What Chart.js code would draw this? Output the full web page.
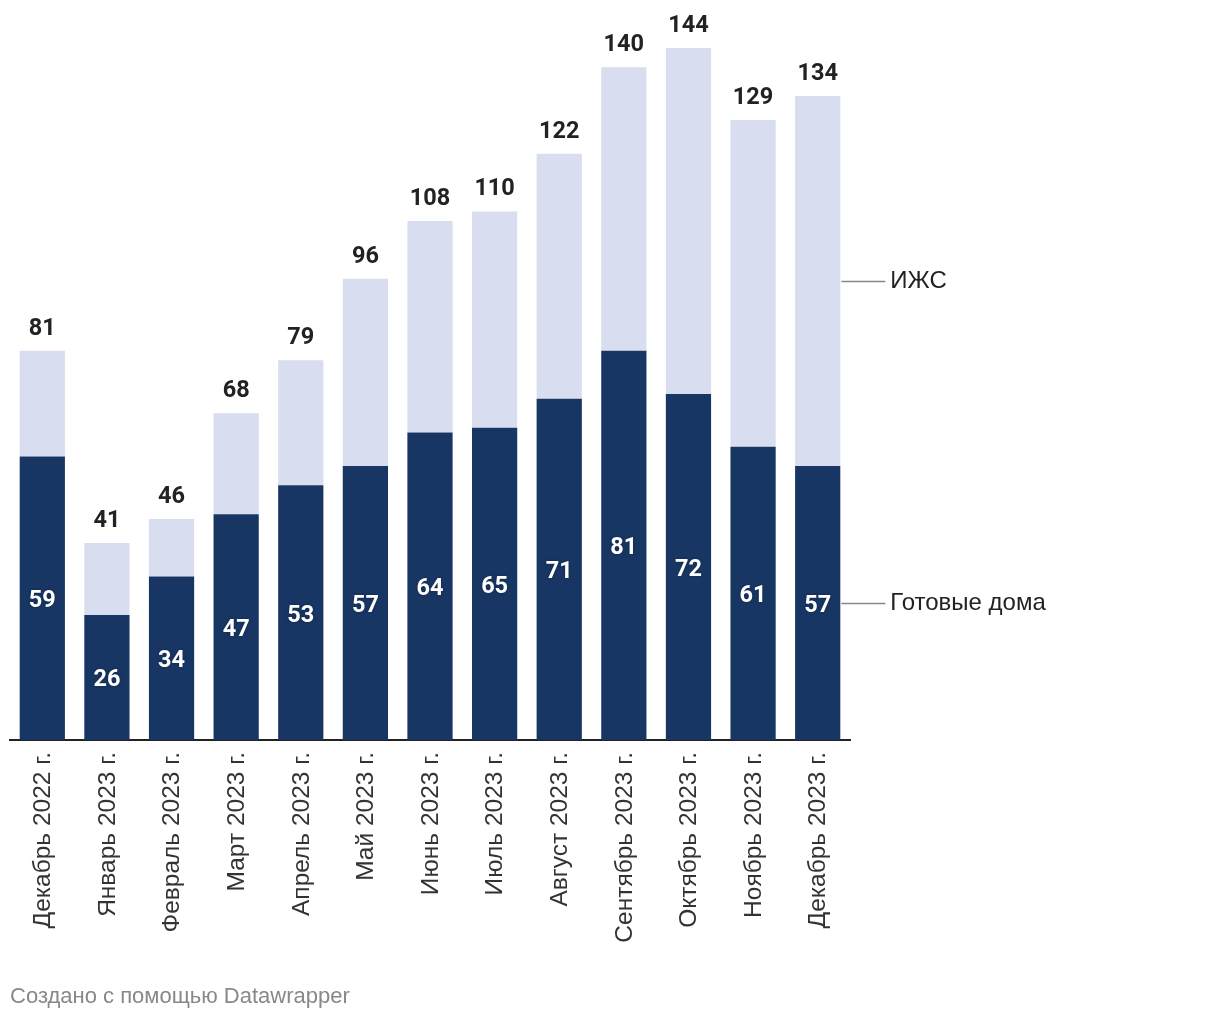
<!DOCTYPE html>
<html><head><meta charset="utf-8">
<script src="https://cdn.jsdelivr.net/npm/chart.js@4/dist/chart.umd.min.js"></script>
<style>html,body{margin:0;padding:0;background:#fff;}#wrap{width:1220px;height:1020px;position:relative;}</style>
</head><body><div id="wrap"><canvas id="c" width="1220" height="1020"></canvas></div>
<script>
const categories = ["Декабрь 2022 г.","Январь 2023 г.","Февраль 2023 г.","Март 2023 г.","Апрель 2023 г.","Май 2023 г.","Июнь 2023 г.","Июль 2023 г.","Август 2023 г.","Сентябрь 2023 г.","Октябрь 2023 г.","Ноябрь 2023 г.","Декабрь 2023 г."];
const ready = [59,26,34,47,53,57,64,65,71,81,72,61,57];
const izhs = [22,15,12,21,26,39,44,45,51,59,72,68,77];
const totals = [81,41,46,68,79,96,108,110,122,140,144,129,134];
const seriesNames = ["Готовые дома","ИЖС"];
const footer = "Создано с помощью Datawrapper";

const FONT = "Roboto, 'Noto Sans', sans-serif";
const SANS = "'Liberation Sans', Arial, sans-serif";
const labelPlugin = {
  id: 'labels',
  afterDatasetsDraw(chart) {
    const ctx = chart.ctx, x = chart.scales.x, y = chart.scales.y;
    const area = chart.chartArea;
    ctx.save();
    categories.forEach((c, i) => {
      const cx = x.getPixelForValue(i);
      ctx.textAlign = 'center'; ctx.textBaseline = 'middle';
      ctx.font = "bold 23.5px " + FONT;
      ctx.fillStyle = '#222';
      ctx.fillText(String(totals[i]), cx, y.getPixelForValue(totals[i]) - 22);
      ctx.fillStyle = '#fff';
      ctx.shadowColor = 'rgba(0,0,0,0.35)'; ctx.shadowBlur = 3;
      ctx.fillText(String(ready[i]), cx, y.getPixelForValue(ready[i] / 2) + 3);
      ctx.shadowBlur = 0; ctx.shadowColor = 'transparent';
      ctx.save();
      ctx.translate(cx, area.bottom + 12);
      ctx.rotate(-Math.PI / 2);
      ctx.textAlign = 'right'; ctx.textBaseline = 'middle';
      ctx.font = "24.5px " + SANS;
      ctx.fillStyle = '#333';
      ctx.fillText(c, 0, 1);
      ctx.restore();
    });
    const last = categories.length - 1;
    const meta1 = chart.getDatasetMeta(1).data[last];
    const barRight = meta1.x + meta1.width / 2;
    const yReady = y.getPixelForValue(ready[last] / 2);
    const yIzhs = y.getPixelForValue(ready[last] + izhs[last] / 2);
    [[yIzhs, seriesNames[1]], [yReady, seriesNames[0]]].forEach(([yy, t]) => {
      ctx.strokeStyle = '#888'; ctx.lineWidth = 1.5;
      ctx.beginPath(); ctx.moveTo(barRight + 1, Math.round(yy) + 0.5); ctx.lineTo(barRight + 45, Math.round(yy) + 0.5); ctx.stroke();
      ctx.font = "24px " + SANS; ctx.fillStyle = '#222';
      ctx.textAlign = 'left'; ctx.textBaseline = 'middle';
      ctx.fillText(t, barRight + 50, yy);
    });
    ctx.font = "22px " + SANS; ctx.fillStyle = '#888';
    ctx.textAlign = 'left'; ctx.textBaseline = 'middle';
    ctx.fillText(footer, 10, 997);
    ctx.restore();
  }
};

new Chart(document.getElementById('c'), {
  type: 'bar',
  data: {
    labels: categories,
    datasets: [
      { label: seriesNames[0], data: ready, backgroundColor: '#183664', barPercentage: 0.70, categoryPercentage: 1.0 },
      { label: seriesNames[1], data: izhs, backgroundColor: '#d8deef', barPercentage: 0.70, categoryPercentage: 1.0 }
    ]
  },
  options: {
    responsive: false, animation: false,
    layout: { padding: { left: 10, right: 370, top: 48, bottom: 280 } },
    plugins: { legend: { display: false }, tooltip: { enabled: false } },
    scales: {
      x: { stacked: true, offset: true, grid: { display: false, drawTicks: false }, ticks: { display: false },
           border: { display: true, color: '#222', width: 2 } },
      y: { stacked: true, min: 0, max: 144, display: false }
    }
  },
  plugins: [labelPlugin]
});
</script></body></html>
